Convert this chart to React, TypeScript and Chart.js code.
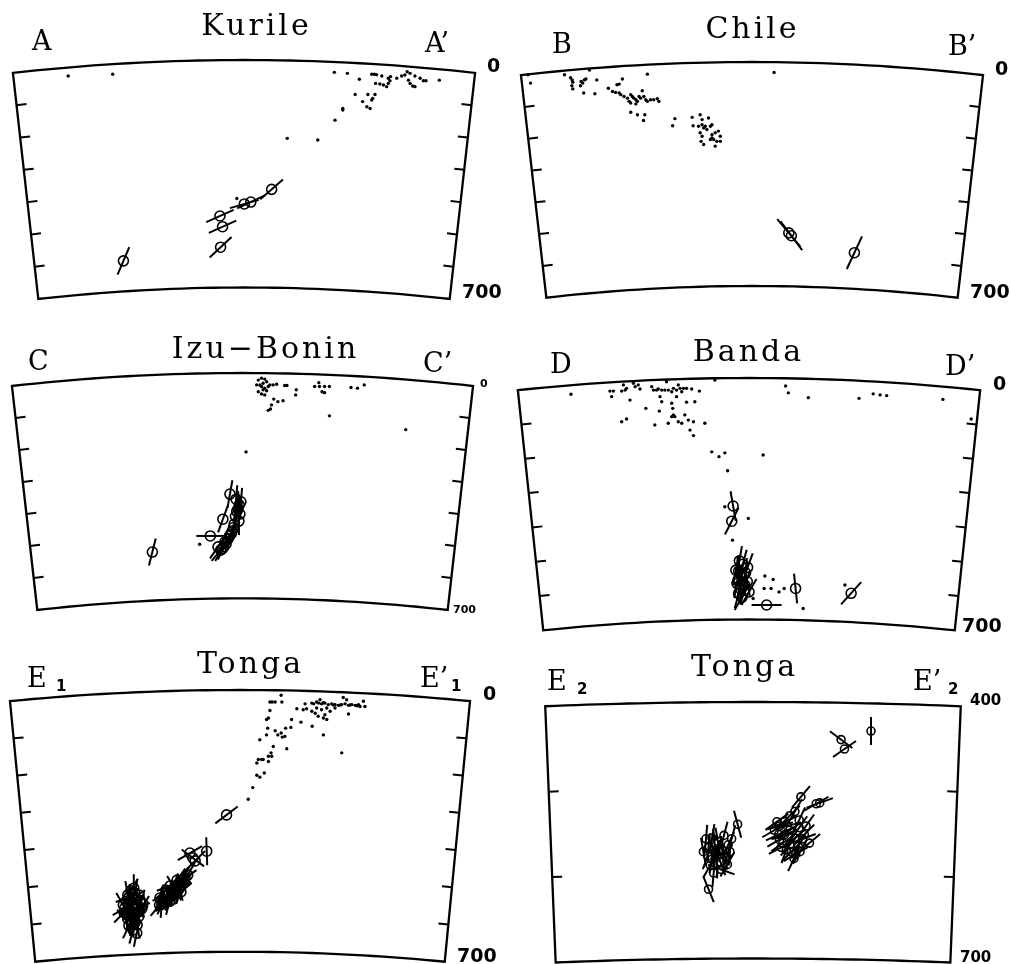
import React, { useEffect, useRef } from "react";
import { Chart, registerables } from "chart.js";
Chart.register(...registerables);

type P = [number, number];
type M = [number, number, number]; // distance km, vertical km, axis angle (deg)

const EARTH_R = 6371;

// ---------- Kurile ----------
const kurileDots: P[] = [
  [-541, 49], [-404, 44], [278, 38], [318, 41], [355, 59], [393, 44], [401, 44], [408, 45], [424, 49],
  [405, 72], [418, 74], [429, 77], [439, 82], [444, 72], [449, 64], [451, 51], [444, 56], [470, 56],
  [485, 49], [495, 46], [502, 36], [511, 41], [526, 49], [542, 56], [552, 64], [506, 62], [511, 72],
  [519, 80], [526, 82], [560, 64], [601, 62], [342, 106], [381, 106], [403, 106], [396, 118], [393, 123],
  [365, 128], [378, 144], [388, 149], [304, 149], [304, 154], [280, 185], [133, 241], [227, 246], [-22, 426],
];
const kurileMechs: M[] = [
  [85, 398, -41], [1, 443, -16], [21, 437, -25], [-74, 480, -24], [-66, 513, -24], [-72, 576, -43], [-371, 618, -67],
];

// ---------- Chile ----------
const chileDots: P[] = [
  [-700, 40], [-692, 66], [-586, 40], [-567, 49], [-562, 56], [-560, 63], [-563, 74], [-560, 84], [-534, 61],
  [-529, 66], [-524, 56], [-519, 53], [-536, 74], [-526, 97], [-508, 25], [-485, 56], [-491, 99], [-405, 53],
  [-415, 69], [-422, 71], [-449, 82], [-436, 92], [-426, 95], [-415, 97], [-410, 102], [-400, 108], [-389, 113],
  [-384, 123], [-379, 102], [-374, 108], [-369, 113], [-363, 118], [-358, 123], [-353, 108], [-348, 113],
  [-343, 90], [-338, 108], [-332, 118], [-327, 123], [-317, 118], [-307, 118], [-296, 115], [-291, 123],
  [-379, 128], [-363, 131], [-379, 157], [-358, 165], [-335, 165], [-339, 183], [-327, 38], [-241, 177],
  [-248, 199], [-187, 173], [-184, 199], [-162, 165], [-156, 180], [-136, 175], [-167, 201], [-156, 196],
  [-151, 206], [-146, 201], [-141, 211], [-130, 201], [-125, 196], [-162, 221], [-156, 232], [-159, 248],
  [-151, 258], [-125, 227], [-115, 221], [-105, 216], [-99, 232], [-120, 242], [-110, 248], [-99, 248],
  [-115, 263], [-125, 237], [-130, 242], [69, 33],
];
const chileMechs: M[] = [[123, 543, 53], [115, 534, 50], [320, 596, -65]];

// ---------- Izu-Bonin ----------
const izuDots: P[] = [
  [49, 22], [59, 16], [69, 19], [75, 27], [64, 32], [54, 37], [44, 37], [59, 42], [69, 47], [80, 42], [85, 37],
  [95, 37], [106, 35], [64, 52], [75, 55], [59, 65], [49, 58], [69, 68], [131, 39], [138, 39], [167, 52],
  [165, 68], [97, 81], [110, 89], [126, 86], [90, 99], [80, 116], [87, 112], [237, 30], [224, 42], [239, 42],
  [255, 42], [270, 42], [247, 58], [255, 61], [337, 45], [357, 47], [378, 37], [270, 133], [507, 176],
  [11, 245], [-133, 532],
];
const izuMechs: M[] = [
  [-8, 438, -80], [-61, 454, -70], [-100, 506, 0], [-20, 392, -85], [-14, 423, -95], [-26, 469, -80],
  [-32, 491, -75], [-45, 515, -65], [-51, 531, -60], [-63, 546, -60], [-76, 540, -55], [-39, 376, -80],
  [-11, 460, -90], [-280, 556, -76],
  [-5, 400, -85], [-10, 410, -95], [-18, 430, -80], [-22, 445, -90], [-28, 480, -85], [-35, 500, -70],
  [-40, 505, -60], [-55, 525, -55], [-58, 540, -65], [-68, 550, -50],
];

// ---------- Banda ----------
const bandaDots: P[] = [
  [-516, 47], [-403, 38], [-393, 38], [-398, 54], [-369, 38], [-359, 35], [-355, 30], [-364, 20], [-345, 64],
  [-335, 15], [-330, 25], [-321, 20], [-316, 32], [-282, 25], [-277, 35], [-268, 35], [-263, 32], [-253, 35],
  [-258, 54], [-253, 69], [-239, 11], [-244, 35], [-234, 35], [-224, 40], [-219, 30], [-210, 35], [-205, 20],
  [-200, 30], [-195, 40], [-190, 30], [-181, 30], [-166, 32], [-144, 38], [-224, 73], [-210, 54], [-181, 70],
  [-157, 69], [-299, 88], [-260, 96], [-221, 88], [-219, 107], [-215, 112], [-224, 112], [-369, 127],
  [-355, 119], [-273, 136], [-234, 131], [-205, 127], [-195, 131], [-186, 107], [-176, 122], [-161, 127],
  [-128, 131], [-171, 151], [-161, 167], [-99, 6], [106, 23], [114, 43], [172, 57], [319, 59], [360, 46],
  [380, 49], [399, 51], [562, 62], [644, 119], [-108, 214], [-87, 228], [-70, 217], [41, 223], [-62, 269],
  [-70, 373], [-2, 407], [-48, 470], [46, 574], [70, 584], [44, 610], [64, 610], [87, 620], [102, 610],
  [157, 668], [278, 600], [12, 639],
];
const bandaMechs: M[] = [
  [-46, 371, 80], [-50, 415, -63], [-38, 557, -80], [-4, 549, -70], [-23, 571, -100], [-26, 600, -80],
  [-14, 615, -75], [-32, 586, -95], [-20, 635, -60], [51, 658, 0], [135, 610, 84], [296, 624, -48],
  [-28, 530, -80], [-18, 540, -75], [-30, 560, -95], [-10, 565, -85], [-35, 595, -80], [-25, 610, -90],
  [-12, 600, -70], [-30, 625, -75], [-5, 590, -100], [0, 620, -60],
];

// ---------- Tonga (E1) ----------
const tonga1Dots: P[] = [
  [110, 14], [80, 32], [86, 32], [94, 32], [112, 32], [80, 55], [76, 75], [71, 79], [74, 102], [53, 133],
  [71, 120], [94, 109], [101, 120], [110, 115], [113, 126], [120, 124], [122, 102], [136, 100], [138, 79],
  [125, 157], [89, 151], [83, 168], [76, 177], [85, 177], [76, 191], [49, 186], [58, 186], [62, 186],
  [45, 195], [45, 228], [53, 233], [65, 222], [152, 50], [163, 86], [174, 37], [169, 53], [178, 50],
  [192, 57], [193, 97], [201, 62], [209, 70], [223, 75], [232, 79], [227, 66], [192, 35], [205, 32],
  [214, 26], [218, 37], [227, 35], [236, 39], [245, 37], [254, 39], [263, 41], [272, 39], [281, 37],
  [290, 41], [299, 39], [308, 41], [321, 44], [330, 30], [334, 44], [276, 20], [285, 26], [205, 48],
  [218, 53], [232, 48], [241, 57], [254, 48], [290, 64], [223, 120], [272, 168], [22, 292], [34, 261],
  [197, 37], [210, 35], [223, 34], [250, 40], [268, 40], [294, 40], [313, 42], [317, 39],
];
const tonga1Mechs: M[] = [
  [-36, 334, -37], [-89, 431, 88], [-126, 449, 37], [-134, 436, -30], [-120, 457, -45],
  [-155, 508, -60], [-166, 519, -45], [-174, 529, -80], [-182, 540, -30], [-193, 551, -70], [-201, 562, -50],
  [-209, 572, -85], [-187, 524, -20], [-171, 543, -65], [-160, 527, -100], [-198, 535, -40], [-214, 556, -75],
  [-179, 559, -55], [-147, 503, -35],
  [-150, 515, -50], [-158, 520, -70], [-163, 532, -30], [-170, 535, -90], [-177, 548, -45], [-185, 552, -60],
  [-190, 545, -80], [-195, 560, -35], [-205, 566, -65], [-176, 530, -120], [-168, 508, -55], [-158, 540, -40],
  [-188, 565, -75], [-200, 548, -25], [-140, 495, -60], [-215, 575, -50],
  [-281, 543, -80], [-289, 556, -100], [-299, 570, -60], [-278, 575, -120], [-294, 588, -75], [-273, 594, -40],
  [-302, 602, -90], [-283, 610, -70], [-267, 562, -110], [-291, 620, -85], [-308, 583, -30], [-262, 583, -60],
  [-275, 628, -100], [-286, 642, -75], [-297, 554, -20], [-270, 548, -140],
  [-284, 530, -90], [-292, 537, -60], [-280, 560, -130], [-300, 548, -100], [-305, 565, -70], [-310, 595, -45],
  [-296, 605, -95], [-288, 596, -110], [-270, 605, -50], [-280, 620, -80], [-297, 630, -65], [-265, 570, -75],
  [-312, 575, -120], [-285, 585, -20], [-276, 650, -78], [-300, 612, -140],
];

// ---------- Tonga (E2, 400-700 km) ----------
const tonga2Dots: P[] = [];
const tonga2Mechs: M[] = [
  [138, 434, 90], [103, 444, 37], [107, 455, -35], [56, 511, -50], [74, 519, -30], [78, 518, -20],
  [49, 528, -60], [43, 533, -45], [37, 540, -25], [31, 545, -15], [25, 550, -30], [43, 550, -35],
  [54, 547, -55], [37, 555, -20], [49, 559, -40], [31, 561, -30], [43, 567, -50], [53, 569, -60],
  [39, 573, -70], [54, 538, -65], [60, 555, -45],
  [30, 555, -25], [35, 565, -35], [45, 575, -45], [50, 578, -30], [58, 560, -20], [40, 545, -15],
  [28, 540, -35], [62, 545, -55], [55, 575, -60], [48, 583, -65], [33, 570, -28], [66, 565, -40],
  [-18, 543, 75], [-48, 559, -80], [-41, 563, -100], [-34, 556, -75], [-52, 570, -85], [-44, 577, -70],
  [-36, 573, -95], [-29, 567, -65], [-48, 584, -80], [-38, 587, -110], [-31, 582, -70], [-37, 596, 20],
  [-50, 591, -60], [-27, 575, -85], [-52, 619, 68],
  [-55, 560, -85], [-45, 565, -95], [-40, 575, -80], [-33, 580, -100], [-53, 580, -70], [-42, 590, -90],
  [-30, 590, -60], [-46, 600, -85], [-58, 575, -100], [-25, 560, -75],
];

const depthTicks100 = [100, 200, 300, 400, 500, 600];
const depthTicksE2 = [500, 600];

type Cfg = {
  key: string; left: number; top: number; w: number; h: number;
  cx: number; y0: number; s: number; hc: number; d0: number; d1: number; ticks: number[];
  title: string; tx: number; ty: number;
  lText: string; lx: number; ly: number; rText: string; rx: number; ry: number; sub?: string; subL?: number; subR?: number;
  topLbl: string; t0x: number; t0y: number; botLbl: string; t1x: number; t1y: number; tickFont: number;
  dots: P[]; mechs: M[]; half: number; circ: number;
};

const PANELS: Cfg[] = [
  { key: "A", left: 0, top: 0, w: 505, h: 320, cx: 244, y0: 60, s: 0.325, hc: 711, d0: 0, d1: 700, ticks: depthTicks100,
    title: "Kurile", tx: 255, ty: 35, lText: "A", lx: 32, ly: 50, rText: "A\u2019", rx: 425, ry: 52,
    topLbl: "0", t0x: 487, t0y: 72, botLbl: "700", t1x: 462, t1y: 298, tickFont: 19,
    dots: kurileDots, mechs: kurileMechs, half: 15, circ: 5 },
  { key: "B", left: 505, top: 0, w: 505, h: 320, cx: 752, y0: 62, s: 0.32, hc: 722, d0: 0, d1: 700, ticks: depthTicks100,
    title: "Chile", tx: 751, ty: 38, lText: "B", lx: 552, ly: 53, rText: "B\u2019", rx: 948, ry: 55,
    topLbl: "0", t0x: 995, t0y: 75, botLbl: "700", t1x: 970, t1y: 298, tickFont: 19,
    dots: chileDots, mechs: chileMechs, half: 18, circ: 5 },
  { key: "C", left: 0, top: 320, w: 505, h: 320, cx: 242.5, y0: 373, s: 0.322, hc: 716, d0: 0, d1: 700, ticks: depthTicks100,
    title: "Izu\u2212Bonin", tx: 264, ty: 358, lText: "C", lx: 28, ly: 370, rText: "C\u2019", rx: 423, ry: 372,
    topLbl: "0", t0x: 480, t0y: 387, botLbl: "700", t1x: 453, t1y: 613, tickFont: 11,
    dots: izuDots, mechs: izuMechs, half: 14, circ: 5 },
  { key: "D", left: 505, top: 320, w: 505, h: 320, cx: 749, y0: 378, s: 0.345, hc: 670, d0: 0, d1: 700, ticks: depthTicks100,
    title: "Banda", tx: 747, ty: 361, lText: "D", lx: 550, ly: 373, rText: "D\u2019", rx: 945, ry: 375,
    topLbl: "0", t0x: 993, t0y: 390, botLbl: "700", t1x: 962, t1y: 632, tickFont: 19,
    dots: bandaDots, mechs: bandaMechs, half: 15, circ: 5 },
  { key: "E1", left: 0, top: 640, w: 505, h: 324, cx: 240, y0: 690, s: 0.374, hc: 615, d0: 0, d1: 700, ticks: depthTicks100,
    title: "Tonga", tx: 249, ty: 673, lText: "E", lx: 27, ly: 687, rText: "E\u2019", rx: 420, ry: 687, sub: "1", subL: 56, subR: 451,
    topLbl: "0", t0x: 483, t0y: 700, botLbl: "700", t1x: 457, t1y: 962, tickFont: 19,
    dots: tonga1Dots, mechs: tonga1Mechs, half: 14, circ: 5 },
  { key: "E2", left: 505, top: 640, w: 505, h: 324, cx: 753, y0: 702, s: 0.855, hc: 243, d0: 400, d1: 700, ticks: depthTicksE2,
    title: "Tonga", tx: 743, ty: 676, lText: "E", lx: 547, ly: 690, rText: "E\u2019", rx: 913, ry: 690, sub: "2", subL: 577, subR: 948,
    topLbl: "400", t0x: 970, t0y: 705, botLbl: "700", t1x: 960, t1y: 962, tickFont: 15,
    dots: tonga2Dots, mechs: tonga2Mechs, half: 14, circ: 4 },
];

function makeFramePlugin(cfg: Cfg) {
  return {
    id: "frame" + cfg.key,
    beforeDatasetsDraw(chart: any) {
      const ctx: CanvasRenderingContext2D = chart.ctx;
      const xs = chart.scales.x, ys = chart.scales.y;
      const X = (v: number) => xs.getPixelForValue(v);
      const Y = (v: number) => ys.getPixelForValue(v);
      const Rt = EARTH_R - cfg.d0, Rb = EARTH_R - cfg.d1;
      const th = Math.asin(cfg.hc / Rt);
      const pt = (r: number, phi: number): [number, number] => [X(r * Math.sin(phi)), Y(EARTH_R - r * Math.cos(phi))];
      ctx.save();
      ctx.strokeStyle = "#000";
      ctx.lineWidth = 2.3;
      ctx.lineJoin = "miter";
      ctx.beginPath();
      const N = 40;
      for (let i = 0; i <= N; i++) {
        const p = pt(Rt, -th + (2 * th * i) / N);
        if (i === 0) ctx.moveTo(p[0], p[1]); else ctx.lineTo(p[0], p[1]);
      }
      for (let i = 0; i <= N; i++) {
        const p = pt(Rb, th - (2 * th * i) / N);
        ctx.lineTo(p[0], p[1]);
      }
      ctx.closePath();
      ctx.stroke();
      // depth ticks along both sides
      ctx.lineWidth = 2;
      const len = 10;
      for (const d of cfg.ticks) {
        const r = EARTH_R - d;
        const pl = pt(r, -th);
        ctx.beginPath();
        ctx.moveTo(pl[0], pl[1]);
        ctx.lineTo(pl[0] + len * Math.cos(th), pl[1] - len * Math.sin(th));
        ctx.stroke();
        const pr = pt(r, th);
        ctx.beginPath();
        ctx.moveTo(pr[0], pr[1]);
        ctx.lineTo(pr[0] - len * Math.cos(th), pr[1] - len * Math.sin(th));
        ctx.stroke();
      }
      ctx.restore();
    },
    afterDraw(chart: any) {
      const ctx: CanvasRenderingContext2D = chart.ctx;
      const ox = cfg.left, oy = cfg.top;
      ctx.save();
      ctx.fillStyle = "#000";
      ctx.textBaseline = "alphabetic";
      // title
      ctx.font = "30px 'DejaVu Serif'";
      (ctx as any).letterSpacing = "3px";
      ctx.textAlign = "center";
      ctx.fillText(cfg.title, cfg.tx - ox + 1.5, cfg.ty - oy);
      // end letters
      (ctx as any).letterSpacing = "0px";
      ctx.textAlign = "left";
      ctx.font = "27px 'DejaVu Serif'";
      ctx.fillText(cfg.lText, cfg.lx - ox, cfg.ly - oy);
      ctx.fillText(cfg.rText, cfg.rx - ox, cfg.ry - oy);
      if (cfg.sub) {
        ctx.font = "bold 15px 'DejaVu Sans'";
        ctx.fillText(cfg.sub, (cfg.subL as number) - ox, cfg.ly - oy + 4);
        ctx.fillText(cfg.sub, (cfg.subR as number) - ox, cfg.ry - oy + 4);
      }
      // depth labels
      ctx.font = `bold ${cfg.tickFont}px 'DejaVu Sans'`;
      ctx.fillText(cfg.topLbl, cfg.t0x - ox, cfg.t0y - oy);
      ctx.fillText(cfg.botLbl, cfg.t1x - ox, cfg.t1y - oy);
      ctx.restore();
    },
  };
}

function Panel({ cfg }: { cfg: Cfg }) {
  const ref = useRef<HTMLCanvasElement>(null);
  useEffect(() => {
    const canvas = ref.current as HTMLCanvasElement;
    const xmin = -(cfg.cx - cfg.left) / cfg.s;
    const xmax = (cfg.left + cfg.w - cfg.cx) / cfg.s;
    const ymin = cfg.d0 - (cfg.y0 - cfg.top) / cfg.s;
    const ymax = cfg.d0 + (cfg.top + cfg.h - cfg.y0) / cfg.s;
    const mechPts = cfg.mechs.map(([x, y]) => ({ x, y }));
    const chart = new Chart(canvas, {
      type: "scatter",
      data: {
        datasets: [
          {
            label: "events",
            data: cfg.dots.map(([x, y]) => ({ x, y })),
            pointRadius: 1.7,
            pointBackgroundColor: "#000",
            pointBorderWidth: 0,
            pointStyle: "circle",
          },
          {
            label: "axes",
            data: mechPts,
            pointStyle: "line",
            pointRadius: cfg.half,
            pointRotation: cfg.mechs.map((m) => m[2]),
            pointBorderColor: "#000",
            pointBorderWidth: 2,
          },
          {
            label: "mechanisms",
            data: mechPts,
            pointStyle: "circle",
            pointRadius: cfg.circ,
            pointBackgroundColor: "rgba(0,0,0,0)",
            pointBorderColor: "#000",
            pointBorderWidth: 1.6,
          },
        ],
      } as any,
      options: {
        responsive: false,
        devicePixelRatio: 1,
        animation: false,
        events: [],
        layout: { padding: 0, autoPadding: false },
        plugins: { legend: { display: false }, tooltip: { enabled: false }, title: { display: false } },
        scales: {
          x: { type: "linear", min: xmin, max: xmax, display: false },
          y: { type: "linear", min: ymin, max: ymax, reverse: true, display: false },
        },
      } as any,
      plugins: [makeFramePlugin(cfg)],
    });
    return () => chart.destroy();
  }, []);
  return (
    <canvas
      ref={ref}
      width={cfg.w}
      height={cfg.h}
      style={{ position: "absolute", left: cfg.left, top: cfg.top, width: cfg.w, height: cfg.h }}
    />
  );
}

export default function App() {
  return (
    <div style={{ position: "absolute", left: 0, top: 0, width: 1010, height: 964, background: "#fff" }}>
      {PANELS.map((p) => (
        <Panel key={p.key} cfg={p} />
      ))}
    </div>
  );
}
